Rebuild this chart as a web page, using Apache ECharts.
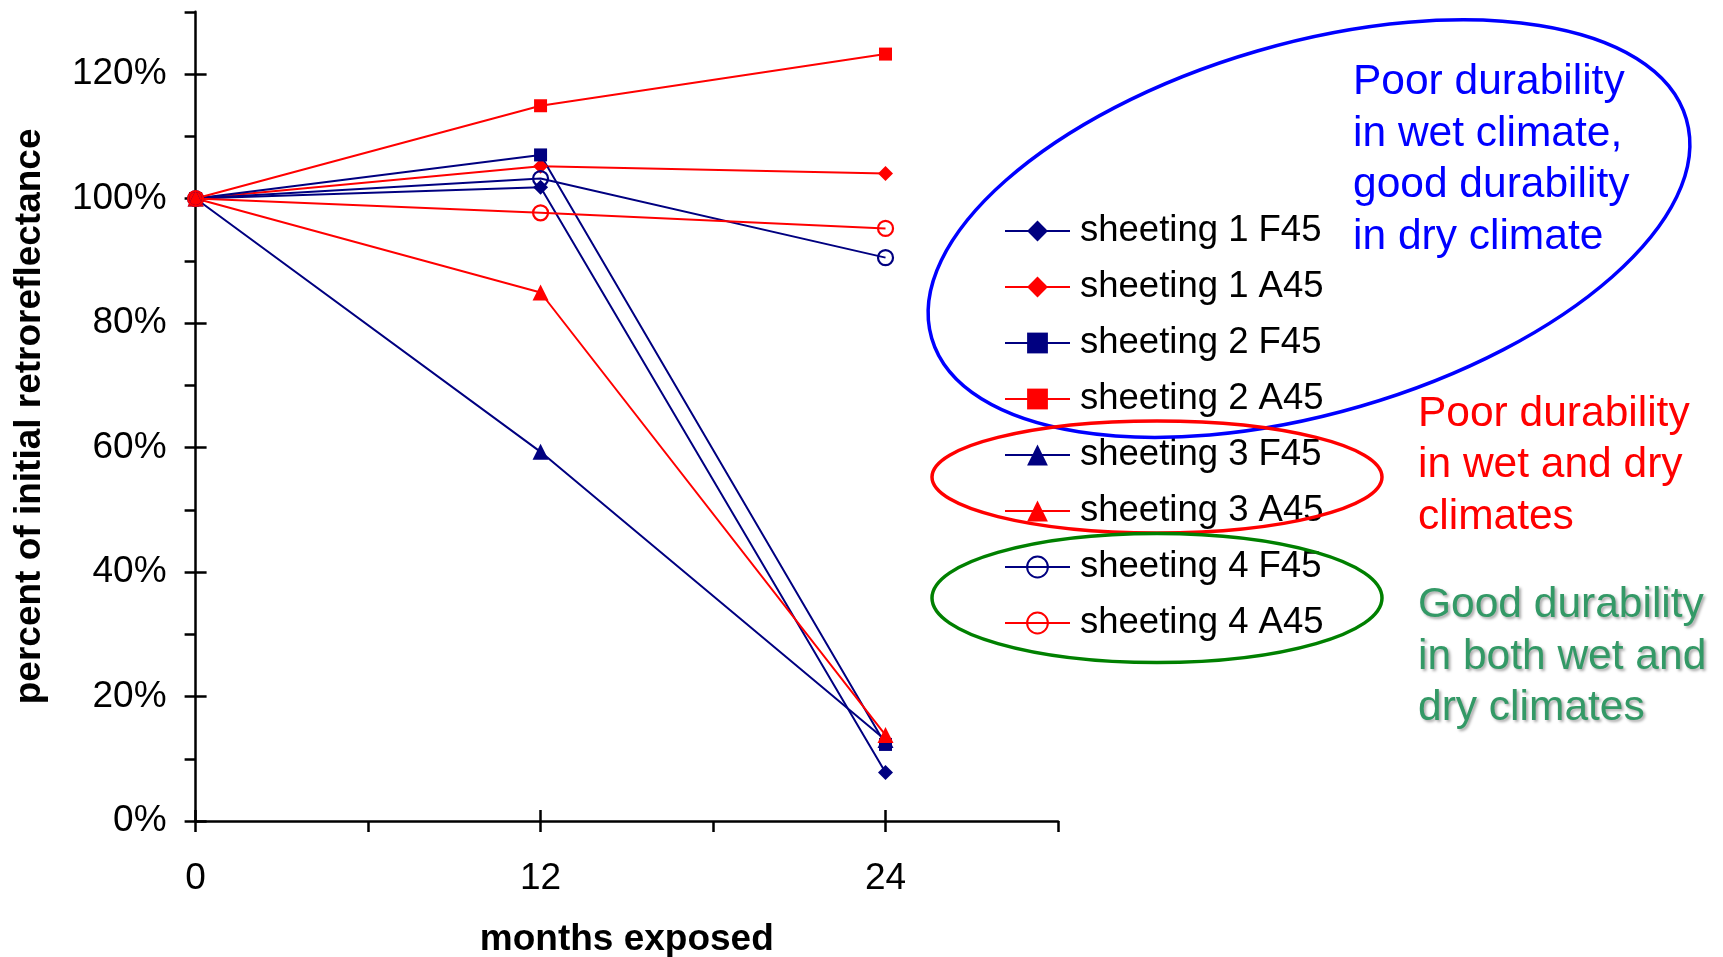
<!DOCTYPE html>
<html>
<head>
<meta charset="utf-8">
<title>Retroreflectance durability</title>
<script src="https://cdn.jsdelivr.net/npm/echarts@6/dist/echarts.min.js"></script>
<style>
  html, body { margin: 0; padding: 0; background: #ffffff; }
  #chart { width: 1723px; height: 957px; }
</style>
</head>
<body>
<div id="chart"></div>
<script>
// Months of outdoor exposure
const months = [0, 12, 24];

// Percent of initial retroreflectance for each sheeting / site
const sheeting1F45 = [100, 101.8, 7.8];
const sheeting1A45 = [100, 105.2, 104.0];
const sheeting2F45 = [100, 107.0, 12.3];
const sheeting2A45 = [100, 114.9, 123.2];
const sheeting3F45 = [100, 59.3, 13.0];
const sheeting3A45 = [100, 84.9, 13.8];
const sheeting4F45 = [100, 103.2, 90.5];
const sheeting4A45 = [100, 97.7, 95.2];

// Axis tick values
const yTicksAll = [0, 10, 20, 30, 40, 50, 60, 70, 80, 90, 100, 110, 120, 130];
const yTicksMajor = [0, 20, 40, 60, 80, 100, 120];
const xTicksAll = [0, 6, 12, 18, 24, 30];
const xTicksMajor = [0, 12, 24];

const NAVY = '#000080';
const RED = '#FF0000';
const FONT = '"Liberation Sans", Arial, sans-serif';

const seriesDefs = [
  { name: 'sheeting 1 F45', data: sheeting1F45, color: NAVY, symbol: 'diamond', size: 15 },
  { name: 'sheeting 1 A45', data: sheeting1A45, color: RED, symbol: 'diamond', size: 15 },
  { name: 'sheeting 2 F45', data: sheeting2F45, color: NAVY, symbol: 'rect', size: 13 },
  { name: 'sheeting 2 A45', data: sheeting2A45, color: RED, symbol: 'rect', size: 13 },
  { name: 'sheeting 3 F45', data: sheeting3F45, color: NAVY, symbol: 'triangle', size: 16 },
  { name: 'sheeting 3 A45', data: sheeting3A45, color: RED, symbol: 'triangle', size: 16 },
  { name: 'sheeting 4 F45', data: sheeting4F45, color: NAVY, symbol: 'circle', size: 15, hollow: true },
  { name: 'sheeting 4 A45', data: sheeting4A45, color: RED, symbol: 'circle', size: 15, hollow: true }
];

const series = seriesDefs.map(d => ({
  name: d.name,
  type: 'line',
  xAxisIndex: 0,
  yAxisIndex: 0,
  data: months.map((m, i) => [m, d.data[i]]),
  symbol: d.symbol,
  symbolSize: d.size,
  showAllSymbol: true,
  lineStyle: { color: d.color, width: 2 },
  itemStyle: d.hollow
    ? { color: 'rgba(0,0,0,0)', borderColor: d.color, borderWidth: 2.2 }
    : { color: d.color, borderWidth: 0 },
  emphasis: { disabled: true },
  animation: false
}));

const chart = echarts.init(document.getElementById('chart'), null, { renderer: 'canvas' });

const axisBlack = { color: '#000000', width: 2.5 };

chart.setOption({
  backgroundColor: '#ffffff',
  animation: false,
  grid: {
    left: 195.6, right: 665, top: 11.75, bottom: 136,
    containLabel: false, outerBoundsMode: 'none'
  },
  legend: {
    orient: 'vertical',
    left: 999,
    top: 206,
    itemWidth: 65,
    itemHeight: 26,
    itemGap: 16,
    selectedMode: false,
    textStyle: { fontFamily: FONT, fontSize: 36.5, color: '#000000', lineHeight: 40, padding: [0, 0, 0, 5] },
    data: seriesDefs.map(d => d.name)
  },
  xAxis: [
    {
      type: 'value', position: 'bottom', min: 0, max: 30, interval: 6,
      name: 'months exposed', nameLocation: 'middle', nameGap: 100,
      nameTextStyle: { fontFamily: FONT, fontSize: 37, fontWeight: 'bold', color: '#000000' },
      axisLine: { show: true, onZero: false, lineStyle: axisBlack },
      axisTick: { show: true, inside: false, length: 11, lineStyle: axisBlack, customValues: xTicksAll },
      axisLabel: {
        show: true, margin: 39, fontFamily: FONT, fontSize: 37, color: '#000000',
        customValues: xTicksMajor, formatter: v => String(v)
      },
      splitLine: { show: false }
    },
    {
      type: 'value', position: 'bottom', min: 0, max: 30, interval: 6,
      axisLine: { show: false },
      axisTick: { show: true, inside: true, length: 11, lineStyle: axisBlack, customValues: xTicksMajor },
      axisLabel: { show: false },
      splitLine: { show: false }
    }
  ],
  yAxis: [
    {
      type: 'value', position: 'left', min: 0, max: 130, interval: 10,
      name: 'percent of initial retroreflectance', nameLocation: 'middle', nameGap: 147,
      nameTextStyle: { fontFamily: FONT, fontSize: 37, fontWeight: 'bold', color: '#000000' },
      axisLine: { show: true, onZero: false, lineStyle: axisBlack },
      axisTick: { show: true, inside: false, length: 11, lineStyle: axisBlack, customValues: yTicksAll },
      axisLabel: {
        show: true, margin: 29, fontFamily: FONT, fontSize: 37, color: '#000000',
        customValues: yTicksMajor, formatter: v => v + '%'
      },
      splitLine: { show: false }
    },
    {
      type: 'value', position: 'left', min: 0, max: 130, interval: 10,
      axisLine: { show: false },
      axisTick: { show: true, inside: true, length: 11, lineStyle: axisBlack, customValues: yTicksMajor },
      axisLabel: { show: false },
      splitLine: { show: false }
    }
  ],
  graphic: [
    // grouping rings around the legend entries
    {
      type: 'ellipse', x: 1309, y: 228.6, rotation: 16.2 * Math.PI / 180,
      shape: { cx: 0, cy: 0, rx: 392.9, ry: 185 },
      style: { fill: 'none', stroke: '#0000FF', lineWidth: 3.5 }, z: 10
    },
    {
      type: 'ellipse', x: 1157, y: 477,
      shape: { cx: 0, cy: 0, rx: 225, ry: 56 },
      style: { fill: 'none', stroke: '#FF0000', lineWidth: 3.5 }, z: 10
    },
    {
      type: 'ellipse', x: 1157, y: 598,
      shape: { cx: 0, cy: 0, rx: 225, ry: 64.5 },
      style: { fill: 'none', stroke: '#008000', lineWidth: 3.5 }, z: 10
    },
    // group captions
    {
      type: 'text', left: 1353, top: 57, z: 10,
      style: {
        text: 'Poor durability\nin wet climate,\ngood durability\nin dry climate',
        font: '42.5px ' + FONT, lineHeight: 51.5, fill: '#0000FF'
      }
    },
    {
      type: 'text', left: 1418, top: 388.5, z: 10,
      style: {
        text: 'Poor durability\nin wet and dry\nclimates',
        font: '42.5px ' + FONT, lineHeight: 51.5, fill: '#FF0000'
      }
    },
    {
      type: 'text', left: 1418, top: 580, z: 10,
      style: {
        text: 'Good durability\nin both wet and\ndry climates',
        font: '42.5px ' + FONT, lineHeight: 51.5, fill: '#339966',
        textShadowColor: 'rgba(0,0,0,0.35)', textShadowBlur: 3,
        textShadowOffsetX: 2, textShadowOffsetY: 2
      }
    }
  ],
  series: series
});
</script>
</body>
</html>
